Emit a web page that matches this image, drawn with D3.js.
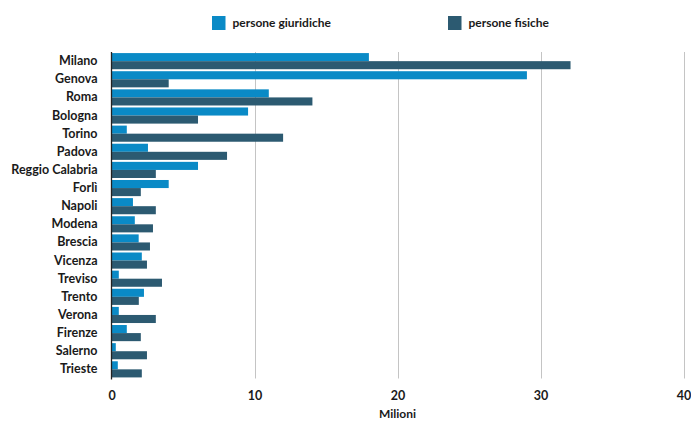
<!DOCTYPE html>
<html>
<head>
<meta charset="utf-8">
<script src="https://cdn.jsdelivr.net/npm/d3@7"></script>
<style>
body { margin: 0; background: #fff; }
svg { display: block; font-family: Lato, "Open Sans", sans-serif; }
</style>
</head>
<body>
<svg id="chart" width="691" height="421"></svg>
<script>
const categories = ["Milano","Genova","Roma","Bologna","Torino","Padova","Reggio Calabria","Forlì","Napoli","Modena","Brescia","Vicenza","Treviso","Trento","Verona","Firenze","Salerno","Trieste"];
const giuridiche = [18.0, 29.05, 11.0, 9.55, 1.07, 2.55, 6.05, 4.0, 1.5, 1.63, 1.9, 2.12, 0.51, 2.27, 0.51, 1.07, 0.3, 0.44];
const fisiche = [32.1, 4.0, 14.05, 6.05, 12.0, 8.08, 3.1, 2.05, 3.1, 2.9, 2.69, 2.48, 3.53, 1.91, 3.1, 2.05, 2.48, 2.12];
const seriesNames = ["persone giuridiche", "persone fisiche"];
const colors = ["#0a8ac6", "#2c5a71"];
const xTicks = [0, 10, 20, 30, 40];
const xTitle = "Milioni";

const svg = d3.select("#chart");
const mLeft = 111.5, mRight = 683.5, mTop = 52, mBottom = 378.5;

const x = d3.scaleLinear().domain([0, 40]).range([mLeft, mRight]);
const y = d3.scaleBand().domain(categories).range([mTop, mBottom]).paddingInner(0.11).paddingOuter(0.06);
const ySub = d3.scaleBand().domain([0, 1]).range([0, y.bandwidth()]).padding(0);

// gridlines
svg.append("g").selectAll("line").data(xTicks.slice(1)).join("line")
  .attr("x1", d => Math.round(x(d)) + 0.5).attr("x2", d => Math.round(x(d)) + 0.5)
  .attr("y1", mTop).attr("y2", mBottom)
  .attr("stroke", "#c4c4c4").attr("stroke-width", 1);

// bars
const data = categories.map((c, i) => ({c, vals: [giuridiche[i], fisiche[i]]}));
const g = svg.append("g").selectAll("g").data(data).join("g")
  .attr("transform", d => `translate(0,${y(d.c)})`);
g.selectAll("rect").data(d => d.vals.map((v, k) => ({v, k}))).join("rect")
  .attr("x", x(0))
  .attr("y", d => ySub(d.k))
  .attr("width", d => x(d.v) - x(0))
  .attr("height", ySub.bandwidth())
  .attr("fill", d => colors[d.k]);

// y axis line
svg.append("line").attr("x1", mLeft).attr("x2", mLeft).attr("y1", mTop).attr("y2", mBottom + 1)
  .attr("stroke", "#222").attr("stroke-width", 1.3);

// category labels
const yAxis = d3.axisLeft(y).tickSize(0).tickPadding(14);
const ya = svg.append("g").attr("transform", `translate(${mLeft},0)`).call(yAxis);
ya.select(".domain").remove();
ya.selectAll("text").attr("font-size", 12.5).attr("font-weight", "bold").attr("fill", "#1a1a1a")
  .attr("font-family", "Lato, sans-serif");

// x axis
const xAxis = d3.axisBottom(x).tickValues(xTicks).tickSize(0).tickPadding(0);
const xa = svg.append("g").attr("transform", `translate(0,${mBottom})`).call(xAxis);
xa.select(".domain").remove();
xa.selectAll("text").attr("font-size", 12.5).attr("font-weight", "bold").attr("fill", "#1a1a1a")
  .attr("font-family", "Lato, sans-serif").attr("dy", null).attr("y", 21);

svg.append("text").attr("x", x(20)).attr("y", 418).attr("text-anchor", "middle")
  .attr("font-size", 12).attr("font-weight", "bold").attr("fill", "#1a1a1a").text(xTitle);

// legend
const legX = [212, 448];
const leg = svg.append("g").selectAll("g").data(seriesNames).join("g")
  .attr("transform", (d, i) => `translate(${legX[i]},16)`);
leg.append("rect").attr("width", 13.5).attr("height", 14).attr("fill", (d, i) => colors[i]);
leg.append("text").attr("x", 20.5).attr("y", 11).attr("font-size", 12).attr("font-weight", "bold")
  .attr("fill", "#1a1a1a").text(d => d);
</script>
</body>
</html>
